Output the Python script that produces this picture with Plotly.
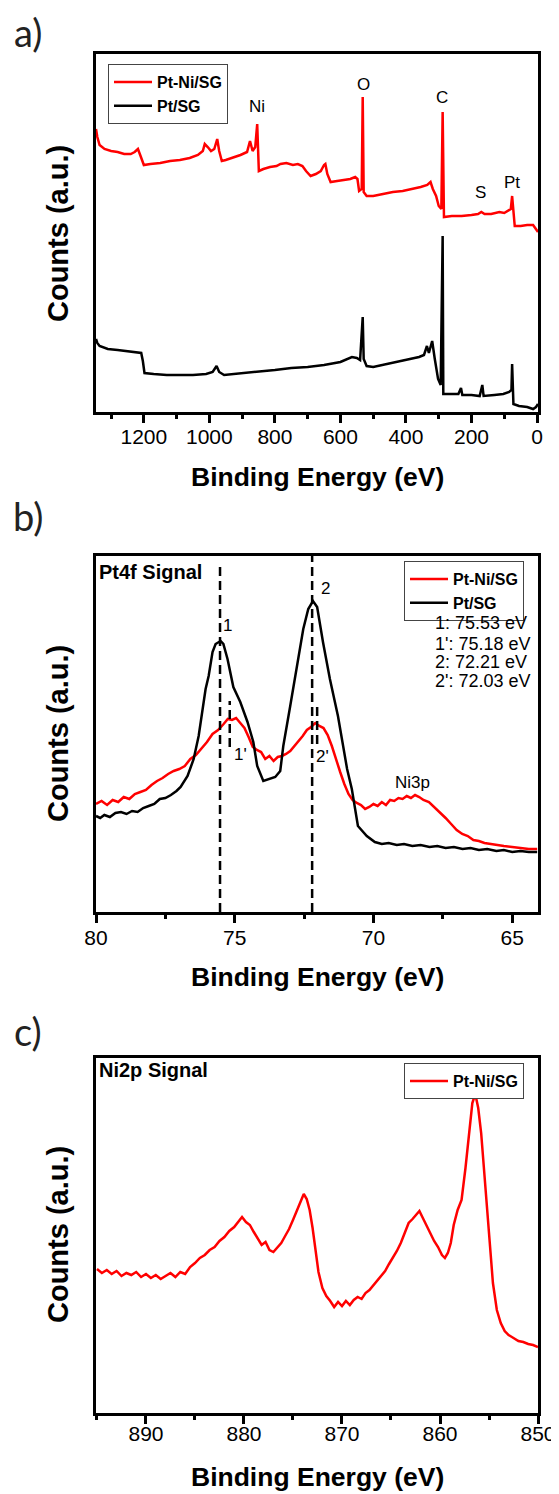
import plotly.graph_objects as go

OFF = 8                      # the page shows the figure at (8, 8)
W, H = 559 - OFF, 1494 - OFF
def yp(py): return 1 - (py - OFF) / H
def xp(px): return (px - OFF) / W

# ---------------- Panel a: survey ----------------
a_ptni_x = [1346, 1342, 1335, 1320, 1300, 1280, 1260, 1240, 1228, 1218, 1210, 1200, 1180, 1150, 1120,
            1090, 1060, 1035, 1020, 1014, 1005, 995, 985, 976, 970, 962, 950, 930, 905, 885, 876, 868,
            860, 854, 849, 835, 815, 795, 783, 765, 745, 730, 716, 705, 691, 675, 660, 650, 646, 640,
            630, 610, 590, 570, 555, 548, 543, 535, 532, 529, 520, 500, 470, 440, 410, 380, 355, 335,
            325, 318, 308, 300, 292, 288, 284, 260, 230, 200, 180, 170, 160, 140, 115, 100, 88, 80, 76,
            72, 68, 50, 30, 12, 5, -3]
a_ptni_y = [283, 275, 267, 263, 261, 260, 258, 258, 260, 263, 256, 247, 248, 249, 251,
            252, 254, 257, 261, 268, 265, 261, 263, 273, 261, 251, 252, 254, 257, 260, 271, 261,
            265, 288, 241, 243, 245, 246, 248, 249, 247, 248, 246, 241, 236, 238, 241, 247, 248, 238,
            230, 231, 232, 233, 235, 233, 221, 223, 315, 220, 216, 216, 218, 220, 221, 223, 225, 227,
            230, 223, 216, 206, 203, 300, 195, 196, 196, 197, 198, 200, 198, 198, 200, 199, 201, 203, 216,
            198, 186, 186, 187, 187, 184, 180]

a_pt_x = [1346, 1342, 1335, 1310, 1280, 1250, 1225, 1208, 1203, 1198, 1170, 1130, 1090, 1050, 1010,
          990, 978, 970, 955, 920, 880, 850, 800, 750, 700, 650, 600, 565, 550, 540, 532, 529, 520,
          500, 470, 440, 400, 360, 345, 336, 330, 320, 312, 302, 294, 288, 286, 260, 240, 232, 228,
          200, 175, 167, 163, 130, 103, 85, 78, 76, 72, 55, 30, 12, 3, -3]
a_pt_y = [73, 69, 66, 63, 62, 61, 60, 59, 51, 39, 38, 37, 37, 37, 38,
          40, 46, 40, 37, 38, 39, 40, 42, 44, 45, 47, 50, 55, 54, 52, 95, 53, 46,
          45, 47, 49, 52, 55, 57, 66, 59, 71, 53, 33, 27, 176, 18, 18, 18, 24, 17,
          17, 16, 27, 16, 17, 18, 20, 22, 48, 8, 6, 5, 3, 5, 8]

a_lbl_text = ["Ni", "O", "C", "S", "Pt"]
a_lbl_x = [856, 530, 289, 174, 76]
a_lbl_y = [305, 327, 314, 219, 229]

# ---------------- Panel b: Pt4f ----------------
b_pt_x = [80.00, 79.85, 79.70, 79.50, 79.30, 79.10, 78.90, 78.70, 78.50, 78.30, 78.10, 77.90, 77.70,
          77.50, 77.30, 77.10, 76.95, 76.70, 76.48, 76.30,
          76.05, 75.94, 75.80, 75.69, 75.51, 75.41, 75.26, 75.05, 74.80, 74.54, 74.33, 74.19, 73.97,
          73.79, 73.54, 73.36, 73.25, 73.00, 72.75, 72.53, 72.35, 72.18, 72.03, 71.82, 71.57, 71.28,
          70.95, 70.78, 70.56, 70.24, 69.95, 69.70, 69.45, 69.16, 68.90, 68.60, 68.30, 67.98, 67.70,
          67.40, 67.10, 66.79, 66.50, 66.20, 65.90, 65.57, 65.30, 65.00, 64.70, 64.40, 64.10]
b_pt_y = [96, 94, 97, 95, 99, 100, 98, 101, 100, 104, 106, 108, 113,
          114, 117, 121, 125, 136, 153, 176,
          223, 236, 260, 268, 271, 268, 253, 225, 210, 190, 170, 146, 131,
          133, 135, 141, 166, 206, 246, 283, 303, 311, 305, 270, 233, 196,
          143, 123, 86, 76, 70, 68, 69, 67, 68, 66, 67, 65, 66,
          64, 65, 63, 64, 62, 63, 61, 62, 60, 61, 60, 60]

b_ptni_x = [80.00, 79.80, 79.60, 79.40, 79.20, 79.00, 78.80, 78.60, 78.40, 78.20, 78.00, 77.80, 77.60,
            77.40, 77.20, 77.00, 76.80, 76.60, 76.40, 76.20, 76.00, 75.80, 75.60, 75.40, 75.25, 75.10,
            74.95, 74.80, 74.65, 74.50, 74.35, 74.20, 74.05, 73.90, 73.75, 73.60, 73.45, 73.30, 73.15,
            73.00, 72.85, 72.70, 72.55, 72.40, 72.25, 72.10, 71.95, 71.80, 71.65, 71.50, 71.35, 71.20,
            71.05, 70.90, 70.75, 70.60, 70.45, 70.30, 70.15, 70.00, 69.85, 69.70, 69.55, 69.40, 69.25,
            69.10, 68.95, 68.80, 68.65, 68.50, 68.35, 68.20, 68.00, 67.80, 67.60, 67.40, 67.20, 67.00,
            66.80, 66.60, 66.40, 66.20, 66.00, 65.80, 65.60, 65.30, 65.00, 64.70, 64.40, 64.10]
b_ptni_y = [108, 111, 107, 112, 110, 115, 113, 118, 120, 122, 127, 131, 134,
            138, 141, 143, 146, 153, 157, 163, 170, 178, 182, 188, 193, 192,
            194, 189, 184, 175, 165, 162, 160, 153, 156, 151, 155, 156, 158,
            161, 166, 170, 176, 182, 185, 189, 186, 184, 177, 166, 152, 140,
            128, 118, 112, 109, 107, 103, 105, 108, 106, 110, 107, 112, 111,
            114, 113, 116, 114, 117, 115, 112, 110, 105, 100, 94, 88, 82,
            78, 76, 72, 71, 69, 68, 67, 66, 65, 64, 63, 63]

b_peaks = [75.53, 75.18, 72.21, 72.03]
b_peak_names = ["1", "1'", "2", "2'"]
b_lbl_text = ["1", "2", "1'", "2'", "Ni3p"]
b_lbl_x = [75.26, 71.74, 74.80, 71.85, 68.59]
b_lbl_y = [287, 324, 158, 156, 130]

# ---------------- Panel c: Ni2p ----------------
c_ptni_x = [895.0, 894.5, 894.0, 893.5, 893.0, 892.5, 892.0, 891.5, 891.0, 890.5, 890.0, 889.5, 889.0,
            888.5, 888.0, 887.5, 887.0, 886.5, 886.0, 885.5, 885.0, 884.5, 884.0, 883.5, 883.0, 882.5,
            882.0, 881.5, 881.0, 880.5, 880.2, 879.8, 879.4, 879.0, 878.6, 878.2, 877.8, 877.4, 877.0,
            876.6, 876.2, 875.8, 875.4, 875.0, 874.6, 874.2, 873.9, 873.6, 873.3, 873.0, 872.7, 872.4,
            872.0, 871.6, 871.2, 870.8, 870.4, 870.0, 869.6, 869.2, 868.8, 868.4, 868.0, 867.6, 867.2,
            866.8, 866.4, 866.0, 865.6, 865.2, 864.8, 864.4, 864.0, 863.6, 863.2, 862.8, 862.4, 862.1,
            861.8, 861.4, 861.0, 860.6, 860.2, 859.8, 859.5, 859.2, 858.9, 858.6, 858.2, 857.8, 857.4,
            857.0, 856.7, 856.4, 856.1, 855.8, 855.5, 855.2, 854.9, 854.6, 854.2, 853.8, 853.4, 853.0,
            852.5, 852.0, 851.5, 851.0, 850.5, 850.0]
c_ptni_y = [144, 140, 143, 139, 142, 137, 140, 138, 141, 136, 139, 135, 138,
            134, 137, 140, 136, 141, 139, 146, 150, 155, 158, 163, 166, 172,
            176, 182, 186, 192, 196, 191, 188, 181, 175, 168, 171, 163, 161,
            166, 170, 177, 184, 193, 203, 213, 219, 214, 203, 185, 163, 141,
            125, 117, 112, 106, 111, 107, 112, 108, 113, 116, 114, 120, 123,
            128, 132, 138, 142, 149, 155, 162, 170, 181, 190, 194, 199, 202,
            196, 188, 180, 172, 166, 158, 155, 160, 170, 188, 203, 213, 245,
            285, 310, 319, 305, 280, 240, 200, 160, 130, 103, 90, 82, 78,
            75, 72, 71, 69, 68, 66]

RED = "#ff0000"
BLACK = "#000000"
FONT = "Liberation Sans, Arial, sans-serif"

fig = go.Figure()
fig.add_trace(go.Scatter(x=a_ptni_x, y=a_ptni_y, mode="lines", name="Pt-Ni/SG",
                         line=dict(color=RED, width=2.5), xaxis="x", yaxis="y", legend="legend"))
fig.add_trace(go.Scatter(x=a_pt_x, y=a_pt_y, mode="lines", name="Pt/SG",
                         line=dict(color=BLACK, width=2.5), xaxis="x", yaxis="y", legend="legend"))
fig.add_trace(go.Scatter(x=b_ptni_x, y=b_ptni_y, mode="lines", name="Pt-Ni/SG",
                         line=dict(color=RED, width=2.5), xaxis="x2", yaxis="y2", legend="legend2"))
fig.add_trace(go.Scatter(x=b_pt_x, y=b_pt_y, mode="lines", name="Pt/SG",
                         line=dict(color=BLACK, width=2.5), xaxis="x2", yaxis="y2", legend="legend2"))
fig.add_trace(go.Scatter(x=c_ptni_x, y=c_ptni_y, mode="lines", name="Pt-Ni/SG",
                         line=dict(color=RED, width=2.5), xaxis="x3", yaxis="y3", legend="legend3"))

# dashed peak markers (panel b)
dash_top = {"1": 346, "1'": 211, "2": 358, "2'": 210}
dash_bot = {"1": 0, "1'": 165, "2": 0, "2'": 168}
for name, e in zip(b_peak_names, b_peaks):
    fig.add_shape(type="line", xref="x2", yref="y2", x0=e, x1=e, y0=dash_bot[name], y1=dash_top[name],
                  line=dict(color=BLACK, width=2.5, dash="9px,5px"))

anns = []
for t, x, y in zip(a_lbl_text, a_lbl_x, a_lbl_y):
    anns.append(dict(text=t, x=x, y=y, xref="x", yref="y", showarrow=False,
                     font=dict(family=FONT, size=17, color=BLACK)))
for t, x, y in zip(b_lbl_text, b_lbl_x, b_lbl_y):
    anns.append(dict(text=t, x=x, y=y, xref="x2", yref="y2", showarrow=False,
                     font=dict(family=FONT, size=17, color=BLACK)))
ev_rows = [623, 644, 662, 681]
for name, e, py in zip(b_peak_names, b_peaks, ev_rows):
    anns.append(dict(text=f"{name}: {e:.2f} eV", x=xp(433), y=yp(py), xref="paper", yref="paper",
                     xanchor="left", yanchor="middle", showarrow=False,
                     font=dict(family=FONT, size=18, color=BLACK)))
anns.append(dict(text="<b>Pt4f Signal</b>", x=xp(97), y=yp(572), xref="paper", yref="paper",
                 xanchor="left", yanchor="middle", showarrow=False,
                 font=dict(family=FONT, size=20, color=BLACK)))
anns.append(dict(text="<b>Ni2p Signal</b>", x=xp(97), y=yp(1070), xref="paper", yref="paper",
                 xanchor="left", yanchor="middle", showarrow=False,
                 font=dict(family=FONT, size=20, color=BLACK)))
for lab, py in [("a)", 32), ("b)", 516), ("c)", 1031)]:
    anns.append(dict(text=lab, x=xp(28), y=yp(py), xref="paper", yref="paper",
                     xanchor="center", yanchor="middle", showarrow=False,
                     font=dict(family="Lato, Open Sans, sans-serif", size=38, color="#222")))
for py in [477, 977, 1477]:
    anns.append(dict(text="<b>Binding Energy (eV)</b>", x=xp(317), y=yp(py), xref="paper", yref="paper",
                     xanchor="center", yanchor="middle", showarrow=False,
                     font=dict(family=FONT, size=26.5, color=BLACK)))
for py in [234, 734, 1235]:
    anns.append(dict(text="<b>Counts (a.u.)</b>", x=xp(58), y=yp(py), xref="paper", yref="paper",
                     xanchor="center", yanchor="middle", showarrow=False, textangle=-90,
                     font=dict(family=FONT, size=29, color=BLACK)))

xdom = [xp(96), xp(538)]
def xax(rng, dtick, minor_dtick, anchor, standoff):
    return dict(domain=xdom, range=rng, autorange=False, anchor=anchor, automargin=False,
                showline=True, mirror=True, linecolor=BLACK, linewidth=3,
                ticks="outside", ticklen=8, tickwidth=2.5, tickcolor=BLACK,
                dtick=dtick, tick0=0, showgrid=False, zeroline=False,
                tickfont=dict(family=FONT, size=21, color=BLACK),
                ticklabelstandoff=standoff,
                minor=dict(ticks="outside", ticklen=4, tickwidth=2.5, tickcolor=BLACK,
                           dtick=minor_dtick, tick0=0, showgrid=False))
def yax(dom, rng, anchor):
    return dict(domain=dom, range=rng, autorange=False, anchor=anchor, automargin=False,
                showline=True, mirror=True, linecolor=BLACK, linewidth=3,
                ticks="", showticklabels=False, showgrid=False, zeroline=False)

def legend_at(px, py):
    return dict(x=xp(px), y=yp(py), xanchor="left", yanchor="top",
                bgcolor="white", bordercolor="#444", borderwidth=1,
                font=dict(family=FONT, size=16, color=BLACK, weight="bold"),
                tracegroupgap=0, itemwidth=38, traceorder="normal")

fig.update_layout(
    width=W, height=H, margin=dict(l=0, r=0, t=0, b=0, autoexpand=False),
    paper_bgcolor="white", plot_bgcolor="white",
    showlegend=True,
    xaxis=xax([1346, -3], 200, 100, "y", -4),
    yaxis=yax([yp(412), yp(54)], [0, 358], "x"),
    xaxis2=xax([80, 64.07], 5, 2.5, "y2", -3),
    yaxis2=yax([yp(912), yp(556)], [0, 356], "x2"),
    xaxis3=xax([895.1, 850], 10, 5, "y3", -8),
    yaxis3=yax([yp(1413), yp(1058)], [0, 355], "x3"),
    legend=legend_at(108, 64),
    legend2=legend_at(404, 561),
    legend3=legend_at(404, 1063),
    annotations=anns,
)

fig.write_html("out.html")
